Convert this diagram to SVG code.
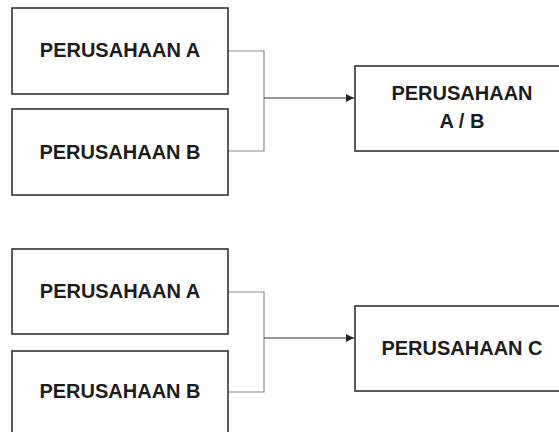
<svg xmlns="http://www.w3.org/2000/svg" width="559" height="432" viewBox="0 0 559 432">
<defs>
<style>
.box{fill:#fff;stroke:#333;stroke-width:1.6}
.t{font-family:"Liberation Sans",Arial,sans-serif;font-weight:bold;font-size:20px;fill:#1c1c1c;text-anchor:middle}
.c{fill:none;stroke:#8a8a8a;stroke-width:1.2}
.a{fill:none;stroke:#333;stroke-width:1}
</style>
<marker id="arr" viewBox="0 0 10 10" refX="10" refY="5" markerWidth="8" markerHeight="8" markerUnits="userSpaceOnUse" orient="auto">
<path d="M0,0 L10,5 L0,10 z" fill="#222"/>
</marker>
</defs>
<rect width="559" height="432" fill="#fff"/>
<g id="connectors">
<path class="c" d="M228,51 H264 V151 H228"/>
<path class="a" d="M264,98 H354" marker-end="url(#arr)"/>
<path class="c" d="M228,292 H264 V392 H228"/>
<path class="a" d="M264,338 H354" marker-end="url(#arr)"/>
</g>
<g id="top-a"><rect class="box" x="12" y="8" width="216" height="86"/><text class="t" x="120" y="57">PERUSAHAAN A</text></g>
<g id="top-b"><rect class="box" x="12" y="109" width="216" height="86"/><text class="t" x="120" y="159">PERUSAHAAN B</text></g>
<g id="top-ab"><rect class="box" x="355" y="66" width="215" height="85"/><text class="t" x="462" y="100">PERUSAHAAN</text><text class="t" x="462" y="128">A / B</text></g>
<g id="bot-a"><rect class="box" x="12" y="249" width="216" height="85"/><text class="t" x="120" y="298">PERUSAHAAN A</text></g>
<g id="bot-b"><rect class="box" x="12" y="351" width="216" height="90"/><text class="t" x="120" y="398">PERUSAHAAN B</text></g>
<g id="bot-c"><rect class="box" x="355" y="306" width="215" height="85"/><text class="t" x="462" y="355">PERUSAHAAN C</text></g>
</svg>
